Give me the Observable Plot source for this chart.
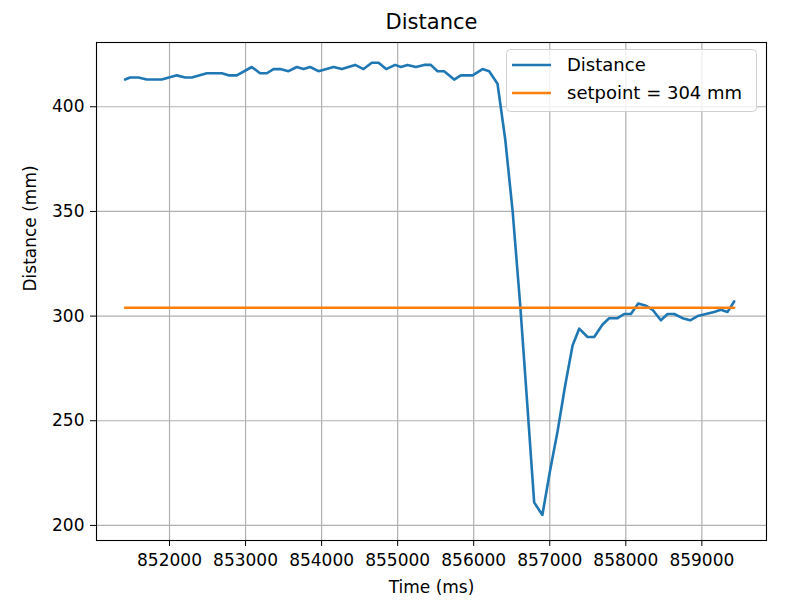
<!DOCTYPE html>
<html>
<head>
<meta charset="utf-8">
<script src="https://cdn.jsdelivr.net/npm/d3@7"></script>
<script src="https://cdn.jsdelivr.net/npm/@observablehq/plot@0.6"></script>
<style>
  html, body { margin: 0; padding: 0; background: #fff; }
  #chart { width: 801px; height: 613px; }
</style>
</head>
<body>
<div id="chart"></div>
<script>
const titleText = "Distance";
const xLabel = "Time (ms)";
const yLabel = "Distance (mm)";
const seriesNames = ["Distance", "setpoint = 304 mm"];
const seriesColors = ["#1f77b4", "#ff7f0e"];
const setpoint = 304;
const xTicks = [852000, 853000, 854000, 855000, 856000, 857000, 858000, 859000];
const yTicks = [200, 250, 300, 350, 400];

const times = [
  851416, 851482, 851592, 851701, 851899, 852096, 852205, 852293, 852491, 852688,
  852776, 852885, 853082, 853191, 853280, 853368, 853454, 853565, 853674, 853762,
  853849, 853959, 854157, 854266, 854441, 854551, 854660, 854749, 854849, 854967,
  855042, 855130, 855239, 855348, 855436, 855524, 855611, 855743, 855831, 855985,
  856116, 856203, 856313, 856416, 856512, 856612, 856708, 856795, 856903, 857003,
  857103, 857203, 857300, 857387, 857497, 857584, 857694, 857781, 857892, 857978,
  858067, 858163, 858264, 858352, 858461, 858549, 858636, 858746, 858846, 858944,
  859053, 859162, 859250, 859338, 859425
];
const distances = [
  413, 414, 414, 413, 413, 415, 414, 414, 416, 416,
  415, 415, 419, 416, 416, 418, 418, 417, 419, 418,
  419, 417, 419, 418, 420, 418, 421, 421, 418, 420,
  419, 420, 419, 420, 420, 417, 417, 413, 415, 415,
  418, 417, 411, 384, 350, 305, 256, 211, 205, 226,
  245, 267, 286, 294, 290, 290, 296, 299, 299, 301,
  301, 306, 305, 303, 298, 301, 301, 299, 298, 300,
  301, 302, 303, 302, 307
];

const distData = times.map((t, i) => ({t, v: distances[i]}));
const setData = [times[0], times[times.length - 1]].map(t => ({t, v: setpoint}));

const fontFamily = "DejaVu Sans";
const plot = Plot.plot({
  width: 801,
  height: 613,
  marginLeft: 96,
  marginRight: 35,
  marginTop: 42,
  marginBottom: 73,
  style: {fontFamily, fontSize: "17px", color: "#000", background: "#fff"},
  x: {domain: [851040, 859850]},
  y: {domain: [192.8, 430.7]},
  marks: [
    Plot.gridX(xTicks, {stroke: "#b0b0b0", strokeOpacity: 1, strokeWidth: 1.2}),
    Plot.gridY(yTicks, {stroke: "#b0b0b0", strokeOpacity: 1, strokeWidth: 1.2}),
    Plot.line(distData, {x: "t", y: "v", stroke: seriesColors[0], strokeWidth: 2.6}),
    Plot.line(setData, {x: "t", y: "v", stroke: seriesColors[1], strokeWidth: 2.6}),
    Plot.frame({stroke: "#000", strokeWidth: 1.1}),
    Plot.axisX(xTicks, {tickFormat: d3.format("d"), tickSize: 6, tickPadding: 7, label: null, fontSize: 17}),
    Plot.axisY(yTicks, {tickSize: 6, tickPadding: 6, label: null, fontSize: 17}),
    Plot.text([titleText], {frameAnchor: "top", dy: -28, fontSize: 21, fill: "#000"}),
    Plot.text([xLabel], {frameAnchor: "bottom", dy: 52, fontSize: 17, fill: "#000"}),
    Plot.text([yLabel], {frameAnchor: "left", dx: -66, rotate: -90, fontSize: 17, fill: "#000"})
  ]
});

// Legend (drawn onto the same SVG)
const svg = d3.select(plot);
const lg = svg.append("g")
  .attr("font-family", fontFamily).attr("font-size", 18).attr("text-anchor", "start");
lg.append("rect")
  .attr("x", 506.5).attr("y", 49.5).attr("width", 250).attr("height", 62)
  .attr("rx", 4).attr("fill", "#fff").attr("fill-opacity", 0.8)
  .attr("stroke", "#d0d0d0").attr("stroke-width", 1);
seriesNames.forEach((name, i) => {
  const y = 65 + i * 28;
  lg.append("path").attr("d", `M512,${y}H551`).attr("fill", "none")
    .attr("stroke", seriesColors[i]).attr("stroke-width", 2.6);
  lg.append("text").attr("x", 567).attr("y", y).attr("dy", "0.35em")
    .attr("text-anchor", "start").attr("fill", "#000").text(name);
});

document.getElementById("chart").appendChild(plot);
</script>
</body>
</html>
